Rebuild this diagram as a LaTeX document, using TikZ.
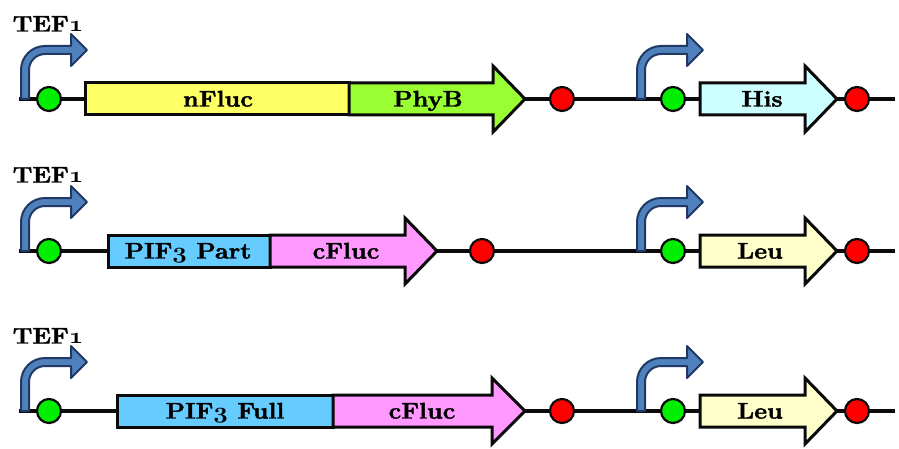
\RequirePackage{fix-cm}
\documentclass[tikz,border=0pt]{standalone}
\usepackage{fontspec}
\setmainfont{Latin Modern Roman}[BoldFeatures={FakeBold=1.8}]
\newcommand\osf[1]{{\fontencoding{OML}\fontfamily{cmm}\fontseries{b}\fontshape{it}\selectfont #1}}
\definecolor{cYel}{HTML}{FFFF66}
\definecolor{cPhy}{HTML}{99FF33}
\definecolor{cHis}{HTML}{CCFFFF}
\definecolor{cLeu}{HTML}{FFFFCC}
\definecolor{cPif}{HTML}{66CCFF}
\definecolor{cFl}{HTML}{FF99FF}
\definecolor{cStart}{HTML}{00EE00}
\definecolor{cStop}{HTML}{FF0000}
\definecolor{cProm}{HTML}{4F81BD}
\definecolor{cPromD}{HTML}{1F3864}
\definecolor{cInk}{HTML}{0A0A0A}
\newcommand\gbody[5]{% xL xR Y color name
  \draw[partbox, fill=#4] (#1,#3-16) rectangle (#2,#3+16);}
\newcommand\ghead[5]{% xL xB xT Y color
  \draw[partbox, fill=#5] (#1,#4-16) -- (#2,#4-16) -- (#2,#4-33) -- (#3,#4) -- (#2,#4+33) -- (#2,#4+16) -- (#1,#4+16) -- cycle;}
\newcommand\promoter[2]{% x0 Y
  \draw[promstyle, shift={(#1,#2)}] (-4,0) -- (-4,29) arc[start angle=180,end angle=90,radius=24]
    -- (46,53) -- (46,65) -- (62,49) -- (46,33) -- (46,45) -- (20,45)
    arc[start angle=90,end angle=180,radius=16] -- (4,0) -- cycle;}
\tikzset{
  x=1pt, y=1pt,
  dna/.style={line width=3.2pt, draw=cInk},
  partbox/.style={draw=cInk, line width=3pt, line join=miter},
  promstyle/.style={fill=cProm, draw=cPromD, line width=2pt, line join=round},
  lbl/.style={font=\fontsize{22.5}{22.5}\selectfont\bfseries, xscale=1.12, inner sep=0pt, text height=15pt, text depth=0pt},
  startc/.style={circle, fill=cStart, draw=cInk, line width=2.2pt, minimum size=24pt, inner sep=0pt},
  stopc/.style={circle, fill=cStop, draw=cInk, line width=2.2pt, minimum size=24pt, inner sep=0pt}
}
\begin{document}
\begin{tikzpicture}
\useasboundingbox (0,0) rectangle (899,448);
% ---------- Row 1 (Y=349)
\coordinate (aL) at (19,349);
\coordinate (aR) at (895,349);
\draw[dna] (aL) -- (aR);
\promoter{25}{349}
\promoter{641}{349}
\gbody{85}{349}{349}{cYel}{}
\ghead{349}{493}{525}{349}{cPhy}
\ghead{700}{805}{837}{349}{cHis}
\node[startc] (aS1) at (49,349) {};
\node[stopc]  (aT1) at (562,349) {};
\node[startc] (aS2) at (673,349) {};
\node[stopc]  (aT2) at (857,349) {};
\node[lbl] (aP) at (48,424) {TEF\osf{1}};
\node[lbl] (aG1) at (218,349) {nFluc};
\node[lbl] (aG2) at (428,349) {PhyB};
\node[lbl] (aG3) at (762,349) {His};
% ---------- Row 2 (Y=197)
\coordinate (bL) at (19,197);
\coordinate (bR) at (895,197);
\draw[dna] (bL) -- (bR);
\promoter{25}{197}
\promoter{641}{197}
\gbody{108}{270}{197}{cPif}{}
\ghead{270}{405}{437}{197}{cFl}
\ghead{700}{805}{837}{197}{cLeu}
\node[startc] (bS1) at (49,197) {};
\node[stopc]  (bT1) at (482,197) {};
\node[startc] (bS2) at (673,197) {};
\node[stopc]  (bT2) at (857,197) {};
\node[lbl] (bP) at (48,273) {TEF\osf{1}};
\node[lbl] (bG1) at (188,197) {PIF\osf{3} Part};
\node[lbl] (bG2) at (346,197) {cFluc};
\node[lbl] (bG3) at (760,197) {Leu};
% ---------- Row 3 (Y=37)
\coordinate (cL) at (19,37);
\coordinate (cR) at (895,37);
\draw[dna] (cL) -- (cR);
\promoter{25}{37}
\promoter{641}{37}
\gbody{117}{333}{37}{cPif}{}
\ghead{333}{492}{525}{37}{cFl}
\ghead{700}{805}{837}{37}{cLeu}
\node[startc] (cS1) at (49,37) {};
\node[stopc]  (cT1) at (562,37) {};
\node[startc] (cS2) at (673,37) {};
\node[stopc]  (cT2) at (857,37) {};
\node[lbl] (cP) at (48,112) {TEF\osf{1}};
\node[lbl] (cG1) at (225,37) {PIF\osf{3} Full};
\node[lbl] (cG2) at (422,37) {cFluc};
\node[lbl] (cG3) at (760,37) {Leu};
\end{tikzpicture}
\end{document}
